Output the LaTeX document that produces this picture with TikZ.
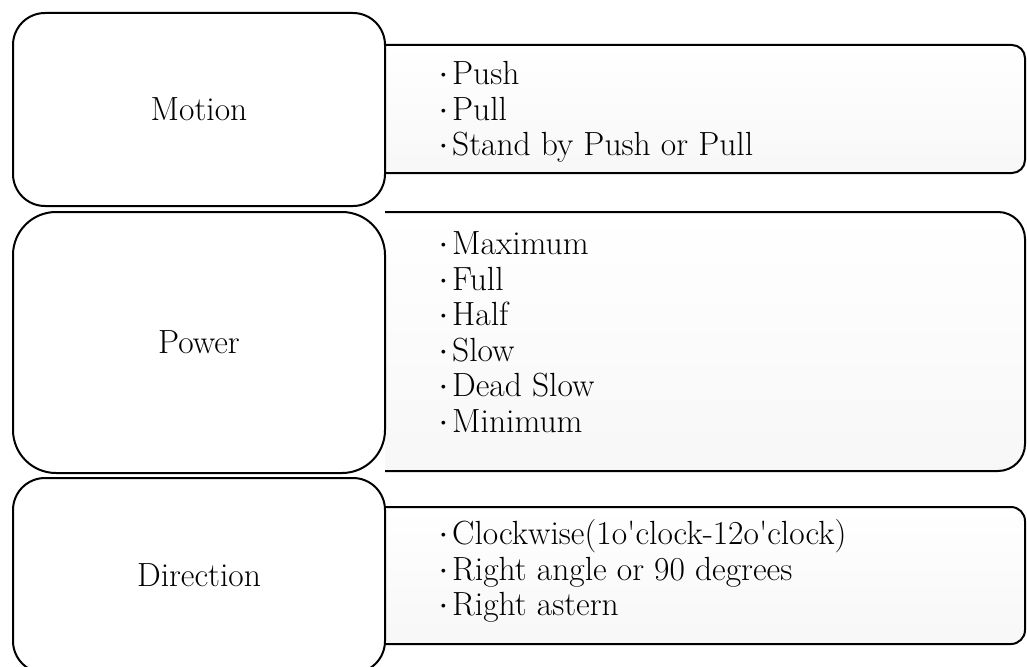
\documentclass[tikz,border=0pt]{standalone}
\usepackage{fontspec}
\setmainfont{Latin Modern Roman}
\newcommand{\itembul}{\makebox[14pt][l]{\raisebox{5.8pt}{\fontsize{14}{14}\selectfont •}}}
\newcommand{\apos}{\textquotesingle}
\begin{document}
\begin{tikzpicture}[x=1pt,y=-1pt,
  lbox/.style={draw=black, line width=2pt, fill=white, minimum width=372pt, inner sep=0pt,
               font=\fontsize{33.5}{36}\selectfont},
  rbox/.style={draw=black, line width=2pt, top color=white, bottom color=black!3},
  items/.style={font=\fontsize{33.5}{35.5}\selectfont, align=left, anchor=west, inner sep=0pt}]
\useasboundingbox (0,0) rectangle (1027,666);
% right (item) boxes, drawn first so the left boxes overlap them
\path[rbox, rounded corners=13pt] (385,45) -- (1025,45) -- (1025,173) -- (385,173);
\path[rbox, rounded corners=27pt] (385,212) -- (1025,212) -- (1025,471) -- (385,471);
\path[rbox, rounded corners=14pt] (385,507) -- (1025,507) -- (1025,644) -- (385,644);
% left (category) boxes
\node[lbox, minimum height=193pt, rounded corners=32pt] (motion) at (199,109.5) {Motion};
\node[lbox, minimum height=261pt, rounded corners=43pt] (power) at (199,342.5) {Power};
\node[lbox, minimum height=195pt, rounded corners=32pt] (direction) at (199,575.5) {Direction};
% item lists
\node[items] (motionitems) at (438,112) {\itembul Push\\\itembul Pull\\\itembul Stand by Push or Pull};
\node[items] (poweritems) at (438,332) {\itembul Maximum\\\itembul Full\\\itembul Half\\\itembul Slow\\\itembul Dead Slow\\\itembul Minimum};
\node[items] (directionitems) at (438,571) {\itembul Clockwise(1o\apos clock-12o\apos clock)\\\itembul Right angle or 90 degrees\\\itembul Right astern};
\end{tikzpicture}
\end{document}
